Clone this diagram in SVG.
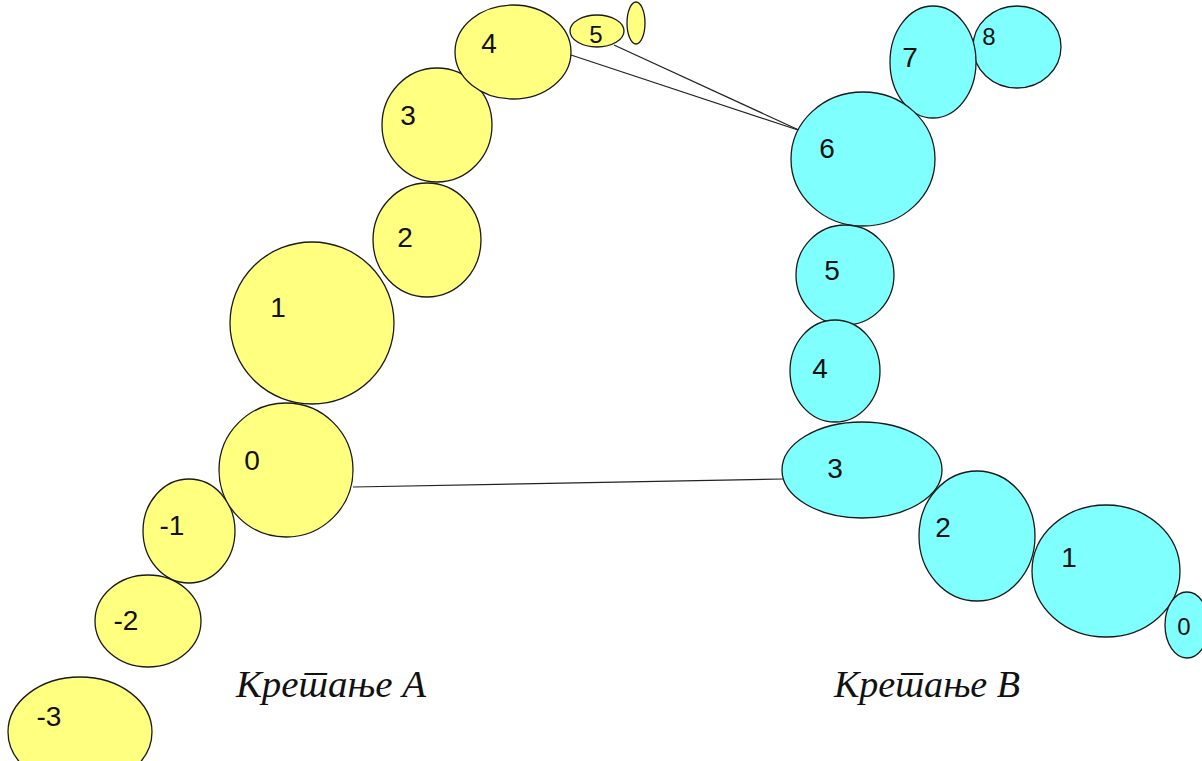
<svg xmlns="http://www.w3.org/2000/svg" width="1202" height="761" viewBox="0 0 1202 761">
<style>
.y{fill:#ffff80;stroke:#1a1a1a;stroke-width:1.3}
.c{fill:#80ffff;stroke:#1a1a1a;stroke-width:1.3}
.n{font-family:"Liberation Sans",Arial,sans-serif;font-size:28px;fill:#111;text-anchor:middle}
.s{font-size:24px}
.t{font-family:"Liberation Serif","Times New Roman",serif;font-style:italic;font-size:38px;fill:#111}
.l{stroke:#222;stroke-width:1.2;fill:none}
</style>
<rect width="1202" height="761" fill="#ffffff"/>
<g id="connectors">
<line class="l" x1="571" y1="55" x2="801" y2="131"/>
<line class="l" x1="614" y1="45" x2="801" y2="131"/>
<line class="l" x1="353" y1="487" x2="783" y2="479"/>
</g>
<g id="A">
<g id="a-3"><ellipse class="y" cx="80" cy="732" rx="72" ry="55"/><text class="n" x="49" y="726">-3</text></g>
<g id="a-2"><ellipse class="y" cx="148" cy="621" rx="53" ry="46"/><text class="n" x="126" y="630">-2</text></g>
<g id="a-1"><ellipse class="y" cx="189" cy="531" rx="46" ry="52"/><text class="n" x="172" y="535">-1</text></g>
<g id="a0"><ellipse class="y" cx="286" cy="470" rx="67" ry="67"/><text class="n" x="252" y="470">0</text></g>
<g id="a1"><ellipse class="y" cx="312" cy="323" rx="82" ry="81"/><text class="n" x="278" y="317">1</text></g>
<g id="a2"><ellipse class="y" cx="427" cy="240" rx="54" ry="57"/><text class="n" x="405" y="247">2</text></g>
<g id="a3"><ellipse class="y" cx="437" cy="125" rx="55" ry="57"/><text class="n" x="408" y="125">3</text></g>
<g id="a4"><ellipse class="y" cx="513" cy="52" rx="58" ry="47"/><text class="n" x="489" y="53">4</text></g>
<g id="a5"><ellipse class="y" cx="597" cy="31" rx="27" ry="16"/><text class="n s" x="596" y="43">5</text></g>
<g id="a6"><ellipse class="y" cx="636" cy="23" rx="9" ry="21"/></g>
</g>
<g id="B">
<g id="b8"><ellipse class="c" cx="1017" cy="47" rx="44" ry="41"/><text class="n s" x="989" y="45">8</text></g>
<g id="b7"><ellipse class="c" cx="933" cy="62" rx="43" ry="56"/><text class="n" x="910" y="67">7</text></g>
<g id="b6"><ellipse class="c" cx="863" cy="159" rx="72" ry="67"/><text class="n" x="827" y="158">6</text></g>
<g id="b5"><ellipse class="c" cx="845" cy="275" rx="49" ry="50"/><text class="n" x="832" y="280">5</text></g>
<g id="b4"><ellipse class="c" cx="835" cy="371" rx="45" ry="51"/><text class="n" x="820" y="378">4</text></g>
<g id="b3"><ellipse class="c" cx="862" cy="470" rx="80" ry="48"/><text class="n" x="835" y="478">3</text></g>
<g id="b2"><ellipse class="c" cx="977" cy="536" rx="58" ry="65"/><text class="n" x="943" y="537">2</text></g>
<g id="b1"><ellipse class="c" cx="1106" cy="571" rx="74" ry="66"/><text class="n" x="1069" y="567">1</text></g>
<g id="b0"><ellipse class="c" cx="1187" cy="625" rx="22" ry="33"/><text class="n s" x="1184" y="635">0</text></g>
</g>
<g id="labels">
<text class="t" lang="sr" x="236" y="697" textLength="190" lengthAdjust="spacingAndGlyphs">Кретање А</text>
<text class="t" lang="sr" x="834" y="697" textLength="186" lengthAdjust="spacingAndGlyphs">Кретање В</text>
</g>
</svg>
